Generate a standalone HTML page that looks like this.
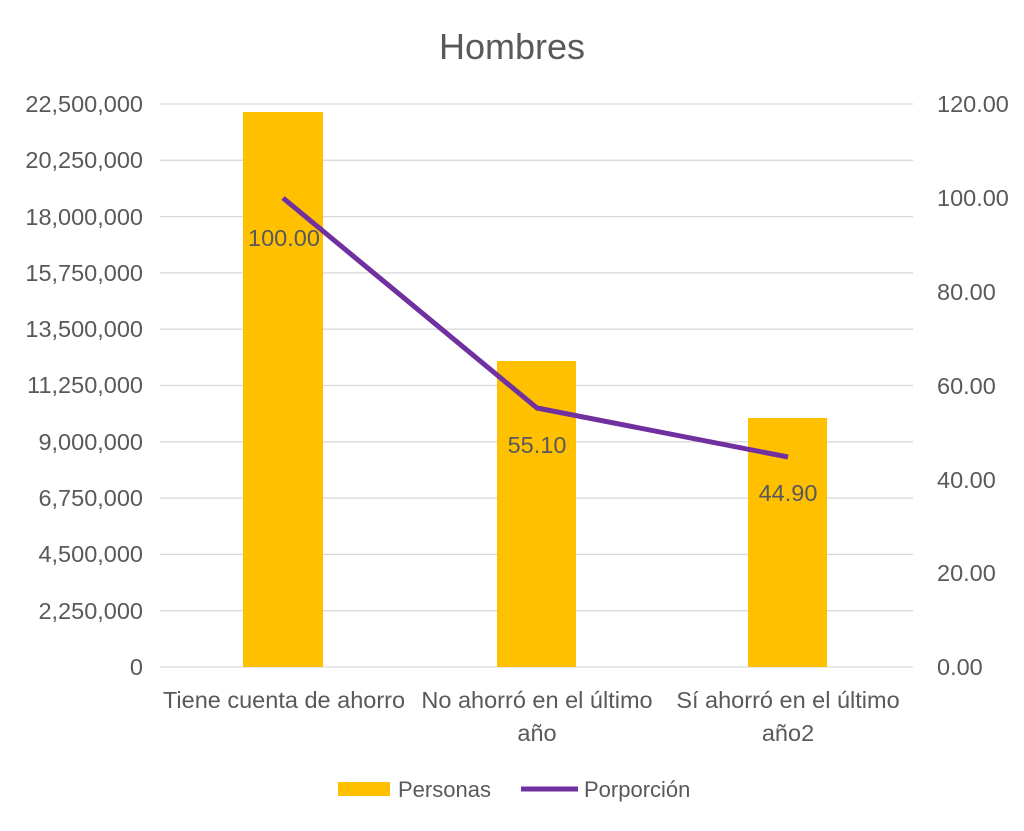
<!DOCTYPE html>
<html><head><meta charset="utf-8"><style>
body{margin:0;background:#fff;}
svg text{font-family:"Liberation Sans",sans-serif;fill:#595959;}
</style></head><body>
<svg width="1024" height="826" xmlns="http://www.w3.org/2000/svg">
<rect width="1024" height="826" fill="#fff"/>
<text x="512" y="59" font-size="36" text-anchor="middle">Hombres</text>
<g stroke="#d9d9d9" stroke-width="1.3">
<line x1="160" x2="913" y1="104" y2="104"/><line x1="160" x2="913" y1="160.3" y2="160.3"/>
<line x1="160" x2="913" y1="216.6" y2="216.6"/><line x1="160" x2="913" y1="272.9" y2="272.9"/>
<line x1="160" x2="913" y1="329.2" y2="329.2"/><line x1="160" x2="913" y1="385.5" y2="385.5"/>
<line x1="160" x2="913" y1="441.8" y2="441.8"/><line x1="160" x2="913" y1="498.1" y2="498.1"/>
<line x1="160" x2="913" y1="554.4" y2="554.4"/><line x1="160" x2="913" y1="610.7" y2="610.7"/>
<line x1="160" x2="913" y1="667" y2="667"/>
</g>
<g font-size="23.5" text-anchor="end">
<text x="143" y="112">22,500,000</text><text x="143" y="168">20,250,000</text>
<text x="143" y="225">18,000,000</text><text x="143" y="281">15,750,000</text>
<text x="143" y="337">13,500,000</text><text x="143" y="393">11,250,000</text>
<text x="143" y="450">9,000,000</text><text x="143" y="506">6,750,000</text>
<text x="143" y="562">4,500,000</text><text x="143" y="619">2,250,000</text>
<text x="143" y="675">0</text>
</g>
<g font-size="23.5">
<text x="937" y="112">120.00</text><text x="937" y="206">100.00</text>
<text x="937" y="300">80.00</text><text x="937" y="394">60.00</text>
<text x="937" y="488">40.00</text><text x="937" y="581">20.00</text>
<text x="937" y="675">0.00</text>
</g>
<g fill="#FFC000">
<rect x="243" y="112" width="80" height="555"/>
<rect x="497" y="361" width="79" height="306"/>
<rect x="748" y="418" width="79" height="249"/>
</g>
<polyline points="283,198 537,408 788,457" fill="none" stroke="#7030A0" stroke-width="5" stroke-linejoin="round"/>
<g font-size="23.5" text-anchor="middle">
<text x="284" y="246">100.00</text><text x="537" y="453">55.10</text><text x="788" y="501">44.90</text>
</g>
<g font-size="23.5" text-anchor="middle">
<text x="284" y="708">Tiene cuenta de ahorro</text>
<text x="537" y="708">No ahorró en el último</text><text x="537" y="741">año</text>
<text x="788" y="708">Sí ahorró en el último</text><text x="788" y="741">año2</text>
</g>
<rect x="338" y="782" width="52" height="14" fill="#FFC000"/>
<text x="398" y="797" font-size="22">Personas</text>
<line x1="521" x2="578" y1="789" y2="789" stroke="#7030A0" stroke-width="5"/>
<text x="584" y="797" font-size="22">Porporción</text>
</svg>
</body></html>
